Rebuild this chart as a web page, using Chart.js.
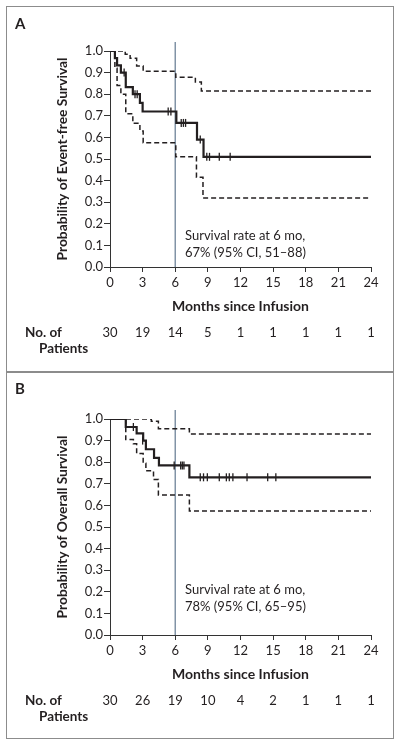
<!DOCTYPE html>
<html>
<head>
<meta charset="utf-8">
<script src="https://cdn.jsdelivr.net/npm/chart.js@4.4.1/dist/chart.umd.min.js"></script>
<style>
  body { margin: 0; background: #fff; }
  .box { position: absolute; left: 6px; width: 388px; border: 1.5px solid #8c8c8c; box-sizing: border-box; pointer-events: none; }
  canvas { position: absolute; left: 7px; }
</style>
</head>
<body>
<canvas id="efs" width="386" height="365" style="top:7px"></canvas>
<canvas id="os" width="386" height="366" style="top:372px"></canvas>
<div class="box" style="top:6px;height:367px"></div>
<div class="box" style="top:371px;height:368px"></div>
<script>
// tick labels + numbers at risk
const monthTicks = [0, 3, 6, 9, 12, 15, 18, 21, 24];
const efsAtRisk = [30, 19, 14, 5, 1, 1, 1, 1, 1];
const osAtRisk = [30, 26, 19, 10, 4, 2, 1, 1, 1];

// Panel A - event-free survival
const efsTime = [0, 0.45, 0.65, 1.0, 1.45, 2.1, 2.75, 3.0, 6.1, 8.0, 8.6, 24];
const efsSurv = [1.0, 0.967, 0.933, 0.90, 0.833, 0.80, 0.76, 0.72, 0.667, 0.59, 0.51, 0.51];
const efsUpTime = [0, 1.4, 1.85, 2.45, 3.05, 6.05, 7.85, 8.4, 24];
const efsUpSurv = [1.0, 0.985, 0.966, 0.93, 0.906, 0.878, 0.857, 0.815, 0.815];
const efsLoTime = [0, 0.45, 0.65, 1.0, 1.45, 2.1, 2.75, 3.05, 6.05, 7.95, 8.55, 24];
const efsLoSurv = [1.0, 0.92, 0.84, 0.80, 0.71, 0.665, 0.63, 0.575, 0.51, 0.415, 0.32, 0.32];
const efsCensTime = [1.3, 2.3, 2.5, 5.35, 5.6, 6.55, 6.75, 6.95, 8.3, 8.9, 9.15, 10.05, 11.05];
const efsCensSurv = [0.90, 0.80, 0.80, 0.72, 0.72, 0.667, 0.667, 0.667, 0.59, 0.51, 0.51, 0.51, 0.51];

// Panel B - overall survival
const osTime = [0, 1.45, 2.45, 3.05, 3.3, 4.05, 4.5, 7.3, 24];
const osSurv = [1.0, 0.963, 0.933, 0.90, 0.86, 0.82, 0.785, 0.73, 0.73];
const osUpTime = [0, 3.8, 4.45, 7.3, 24];
const osUpSurv = [1.0, 0.99, 0.955, 0.93, 0.93];
const osLoTime = [0, 1.45, 2.15, 2.45, 3.05, 3.3, 4.0, 4.45, 7.3, 24];
const osLoSurv = [1.0, 0.905, 0.885, 0.84, 0.795, 0.76, 0.72, 0.648, 0.574, 0.574];
const osCensTime = [2.15, 3.0, 5.9, 6.5, 6.65, 6.8, 8.3, 8.6, 8.95, 10.05, 10.7, 10.97, 11.3, 12.6, 14.5, 15.25];
const osCensSurv = [0.963, 0.90, 0.785, 0.785, 0.785, 0.785, 0.73, 0.73, 0.73, 0.73, 0.73, 0.73, 0.73, 0.73, 0.73, 0.73];

const FONT = 'Lato, "Noto Sans", sans-serif';
const INK = '#231f20';

function toXY(xs, ys) {
  return xs.map((x, i) => ({x: x, y: ys[i]}));
}

// vertical 6-month line, panel letter, annotation and at-risk row
const overlay = {
  id: 'overlay',
  beforeDatasetsDraw(chart, args, o) {
    const ctx = chart.ctx, x = chart.scales.x.getPixelForValue(6);
    ctx.save();
    ctx.strokeStyle = '#8193a6';
    ctx.lineWidth = 1.5;
    ctx.beginPath();
    ctx.moveTo(x, chart.chartArea.top - 9);
    ctx.lineTo(x, chart.chartArea.bottom);
    ctx.stroke();
    ctx.restore();
  },
  afterDraw(chart, args, o) {
    const ctx = chart.ctx, xs = chart.scales.x;
    ctx.save();
    ctx.fillStyle = INK;
    ctx.textBaseline = 'alphabetic';
    ctx.font = 'bold 15px ' + FONT;
    ctx.fillText(o.letter, 8, o.letterY);

    ctx.font = '13px ' + FONT;
    ctx.fillText('Survival rate at 6 mo,', 178, o.noteY);
    ctx.fillText(o.note, 178, o.noteY + 16.5);

    ctx.textBaseline = 'middle';
    ctx.font = 'bold 13.5px ' + FONT;
    ctx.fillText('No. of', 18, o.riskY);
    ctx.fillText('Patients', 32, o.riskY + 15.5);
    ctx.font = '13px ' + FONT;
    ctx.textAlign = 'center';
    monthTicks.forEach((t, i) => ctx.fillText(String(o.risk[i]), xs.getPixelForValue(t), o.riskY));
    ctx.restore();
  }
};

function makePanel(id, p) {
  return new Chart(document.getElementById(id), {
    type: 'line',
    data: {
      datasets: [
        {data: toXY(p.upT, p.upS), stepped: true, borderColor: INK, borderWidth: 1.5, borderDash: [5, 3], pointRadius: 0},
        {data: toXY(p.loT, p.loS), stepped: true, borderColor: INK, borderWidth: 1.5, borderDash: [5, 3], pointRadius: 0},
        {data: toXY(p.t, p.s), stepped: true, borderColor: INK, borderWidth: 2.2, pointRadius: 0},
        {type: 'scatter', data: toXY(p.cT, p.cS), pointStyle: 'line', rotation: 90, radius: 4,
         borderColor: INK, borderWidth: 1.3}
      ]
    },
    options: {
      responsive: false,
      animation: false,
      events: [],
      layout: {padding: {top: p.padTop, right: 22, bottom: p.padBottom, left: 0}},
      plugins: {
        legend: {display: false},
        tooltip: {enabled: false},
        overlay: {letter: p.letter, letterY: p.letterY, note: p.note, noteY: p.noteY, risk: p.risk, riskY: p.riskY}
      },
      scales: {
        x: {
          type: 'linear', min: 0, max: 24,
          afterFit: s => { s.height = 50; },
          afterBuildTicks: s => { s.ticks = monthTicks.map(v => ({value: v})); },
          border: {color: '#333', width: 1},
          grid: {drawOnChartArea: false, tickLength: 5, color: '#333'},
          ticks: {padding: 3, color: INK, font: {family: FONT, size: 13}, maxRotation: 0},
          title: {display: true, text: 'Months since Infusion', color: INK,
                  font: {family: FONT, size: 14, weight: 'bold'}, padding: {top: 0, bottom: 2}}
        },
        y: {
          min: 0, max: 1,
          afterFit: s => { s.width = 103; },
          border: {color: '#333', width: 1},
          grid: {drawOnChartArea: false, tickLength: 6, color: '#333'},
          ticks: {stepSize: 0.1, padding: 1, color: INK, font: {family: FONT, size: 13},
                  callback: v => v.toFixed(1)},
          title: {display: true, text: p.yTitle, color: INK,
                  font: {family: FONT, size: 13.8, weight: 'bold'}, padding: {top: 47, bottom: 0}}
        }
      }
    },
    plugins: [overlay]
  });
}

makePanel('efs', {
  t: efsTime, s: efsSurv, upT: efsUpTime, upS: efsUpSurv, loT: efsLoTime, loS: efsLoSurv,
  cT: efsCensTime, cS: efsCensSurv, risk: efsAtRisk,
  yTitle: 'Probability of Event-free Survival', letter: 'A', letterY: 22,
  note: '67% (95% CI, 51\u201388)', noteY: 233, riskY: 326, padTop: 44, padBottom: 55
});

makePanel('os', {
  t: osTime, s: osSurv, upT: osUpTime, upS: osUpSurv, loT: osLoTime, loS: osLoSurv,
  cT: osCensTime, cS: osCensSurv, risk: osAtRisk,
  yTitle: 'Probability of Overall Survival', letter: 'B', letterY: 22,
  note: '78% (95% CI, 65\u201395)', noteY: 222, riskY: 329, padTop: 47, padBottom: 53
});
</script>
</body>
</html>
